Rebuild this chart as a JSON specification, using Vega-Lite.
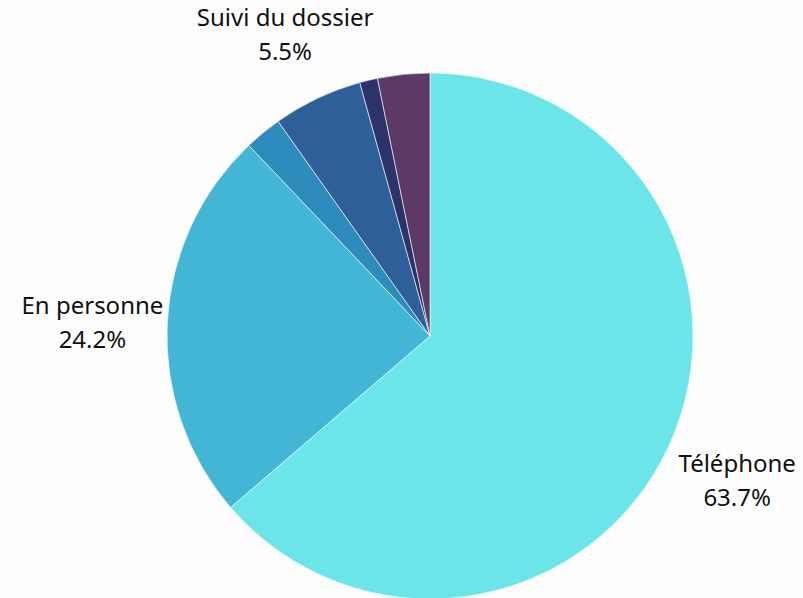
{
  "$schema": "https://vega.github.io/schema/vega-lite/v6.json",
  "width": 746,
  "height": 524,
  "autosize": "none",
  "padding": {"left": 57, "top": 74, "right": 0, "bottom": 0},
  "background": "#fdfdfd",
  "view": {"stroke": null},
  "data": {
    "values": [
      {"canal": "Téléphone", "pct": 63.7, "ordre": 1, "showLabel": true},
      {"canal": "En personne", "pct": 24.2, "ordre": 2, "showLabel": true},
      {"canal": "Courriel", "pct": 2.3, "ordre": 3, "showLabel": false},
      {"canal": "Suivi du dossier", "pct": 5.5, "ordre": 4, "showLabel": true},
      {"canal": "Courrier", "pct": 1.1, "ordre": 5, "showLabel": false},
      {"canal": "Autre", "pct": 3.2, "ordre": 6, "showLabel": false}
    ]
  },
  "encoding": {
    "theta": {"field": "pct", "type": "quantitative", "stack": true},
    "order": {"field": "ordre", "type": "quantitative"}
  },
  "layer": [
    {
      "mark": {"type": "arc", "outerRadius": 263, "stroke": "#ffffff", "strokeWidth": 0.6},
      "encoding": {
        "color": {
          "field": "canal",
          "type": "nominal",
          "legend": null,
          "scale": {
            "domain": ["Téléphone", "En personne", "Courriel", "Suivi du dossier", "Courrier", "Autre"],
            "range": ["#6be5e8", "#43b6d5", "#2e8cbd", "#2f5f98", "#2c336b", "#5d3966"]
          }
        }
      }
    },
    {
      "transform": [
        {"calculate": "datum.showLabel ? [datum.canal, format(datum.pct, '.1f') + '%'] : ''", "as": "label"}
      ],
      "mark": {"type": "text", "radius": 338, "dy": -12, "fontSize": 24, "font": "Noto Sans", "color": "#111111", "lineHeight": 34, "align": "center", "baseline": "middle"},
      "encoding": {
        "text": {"field": "label"}
      }
    }
  ]
}
